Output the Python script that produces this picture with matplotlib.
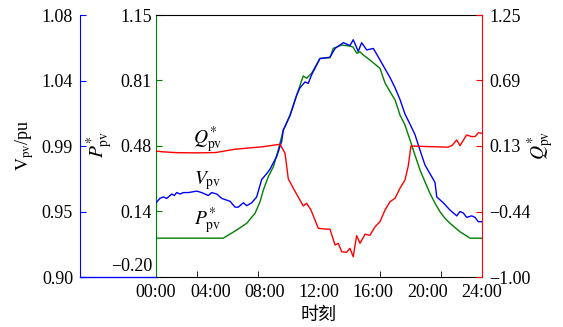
import matplotlib
matplotlib.use('Agg')
import matplotlib.pyplot as plt
from matplotlib.lines import Line2D

plt.rcParams['font.family'] = ['Liberation Serif', 'Noto Sans CJK SC']
plt.rcParams['mathtext.fontset'] = 'stix'
plt.rcParams['font.size'] = 13

# 有功出力 P*pv
p_hours = [0, 4.95, 5.94, 6.68, 7.29, 7.66, 7.9, 8.27, 8.64, 9.0, 9.25, 9.37, 9.5,
           9.87, 10.36, 10.84, 11.09, 11.46, 12.07, 12.81, 13.05, 13.67, 14.28,
           14.5, 14.78, 15.02, 15.26, 15.75, 16.49, 16.86, 17.23, 17.6, 17.96,
           18.33, 18.7, 19.06, 19.44, 19.8, 20.17, 20.54, 20.91, 21.28, 21.64,
           22.38, 23.12, 24]
p_pv = [0, 0, 0.042, 0.077, 0.128, 0.188, 0.248, 0.317, 0.368, 0.454, 0.523, 0.557, 0.574,
        0.635, 0.738, 0.836, 0.824, 0.850, 0.927, 0.930, 0.978, 0.995, 0.990,
        0.985, 0.953, 0.960, 0.944, 0.918, 0.875, 0.800, 0.755, 0.712, 0.635,
        0.583, 0.506, 0.429, 0.351, 0.291, 0.231, 0.180, 0.136, 0.102, 0.077,
        0.033, 0.0, 0.0]

# 无功 Q*pv
q_hours = [0, 0.5, 1.5, 3, 4.4, 5.8, 7.9, 9.13, 9.5, 9.74, 10.25, 10.84, 11.09, 11.41,
           11.7, 11.95, 12.43, 12.81, 13.18, 13.42, 13.67, 14.03, 14.28, 14.52,
           14.77, 15.02, 15.39, 15.75, 16.13, 16.49, 16.86, 17.23, 17.6, 17.96,
           18.33, 18.57, 18.77, 20.0, 21.5, 21.8, 22.14, 22.38, 22.87, 23.24,
           23.5, 23.73, 24]
q_pv = [0.082, 0.075, 0.068, 0.066, 0.069, 0.097, 0.119, 0.140, 0.062, -0.158, -0.267,
        -0.390, -0.367, -0.425, -0.510, -0.582, -0.588, -0.590, -0.725, -0.711,
        -0.783, -0.788, -0.754, -0.826, -0.645, -0.711, -0.633, -0.642, -0.568,
        -0.525, -0.425, -0.353, -0.324, -0.238, -0.167, -0.047, 0.125, 0.120,
        0.115, 0.130, 0.177, 0.128, 0.220, 0.205, 0.207, 0.239, 0.234]

# 并网点电压 Vpv
v_hours = [0, 0.29, 0.54, 0.79, 1.16, 1.35, 1.52, 1.77, 2.01, 2.38, 3.0, 3.36, 3.85,
           4.1, 4.47, 4.84, 5.45, 5.82, 6.06, 6.43, 6.68, 7.05, 7.41, 7.78, 8.15,
           8.39, 8.89, 9.25, 9.37, 9.87, 10.36, 10.6, 10.97, 11.21, 11.46, 12.07,
           12.81, 13.18, 13.79, 14.28, 14.52, 14.89, 15.14, 15.51, 16.0, 16.44,
           16.86, 17.23, 17.6, 17.96, 18.33, 18.7, 19.06, 19.44, 19.8, 20.17,
           20.54, 20.67, 21.15, 21.64, 22.14, 22.38, 22.62, 22.87, 23.24, 23.48,
           23.73, 24]
v_pv = [0.951, 0.954, 0.955, 0.954, 0.957, 0.956, 0.958, 0.957, 0.958, 0.958, 0.959,
        0.958, 0.956, 0.958, 0.957, 0.954, 0.952, 0.948, 0.948, 0.951, 0.949,
        0.951, 0.955, 0.967, 0.971, 0.974, 0.983, 0.993, 1.001, 1.011, 1.025,
        1.030, 1.034, 1.033, 1.039, 1.050, 1.051, 1.057, 1.061, 1.059, 1.063,
        1.055, 1.061, 1.056, 1.057, 1.050, 1.043, 1.037, 1.030, 1.022, 1.012,
        1.005, 0.998, 0.987, 0.977, 0.971, 0.965, 0.955, 0.951, 0.946, 0.942,
        0.945, 0.944, 0.941, 0.942, 0.941, 0.938, 0.938]

x_ticks = [0, 4, 8, 12, 16, 20, 24]
x_labels = ['00:00', '04:00', '08:00', '12:00', '16:00', '20:00', '24:00']
x_marks = [3, 7.5, 12, 16.5, 21]

v_ticks = [0.90, 0.945, 0.99, 1.035, 1.08]
v_labels = ['0.90', '0.95', '0.99', '1.04', '1.08']
p_ticks = [-0.20, 0.1375, 0.475, 0.8125, 1.15]
p_labels = ['', '0.14', '0.48', '0.81', '1.15']
q_ticks = [-1.00, -0.4375, 0.125, 0.6875, 1.25]
q_labels = ['\u22121.00', '\u22120.44', '0.13', '0.69', '1.25']

W, H = 563, 327
fig = plt.figure(figsize=(W / 100, H / 100), dpi=100)
ax = fig.add_axes([156 / W, 1 - 277 / H, 326 / W, 262 / H])
ax_v = ax.twinx()
ax_q = ax.twinx()

ax.plot(p_hours, p_pv, color='green', lw=1.0)
ax_v.plot(v_hours, v_pv, color='blue', lw=1.0)
ax_q.plot(q_hours, q_pv, color='red', lw=1.0)

# x 轴
ax.set_xlim(0, 24)
ax.set_xticks(x_ticks)
ax.set_xticklabels(x_labels)
ax.set_xticks(x_marks, minor=True)
ax.tick_params(axis='x', which='major', length=0, pad=5)
ax.tick_params(axis='x', which='minor', direction='in', length=4, color='k')
ax.set_xlabel('时刻', labelpad=4)

# P 轴（绿）
ax.set_ylim(-0.20, 1.15)
ax.set_yticks(p_ticks)
ax.set_yticklabels(p_labels)
ax.tick_params(axis='y', direction='in', length=4, color='green', pad=3)
ax.text(-0.012, -0.148, '\u22120.20', transform=ax.get_yaxis_transform(),
        ha='right', va='center')
ax.spines['left'].set_color('green')
ax.spines['right'].set_visible(False)

# V 轴（蓝）
ax_v.set_ylim(0.90, 1.08)
ax_v.set_yticks(v_ticks)
ax_v.set_yticklabels(v_labels)
ax_v.spines['left'].set_visible(True)
ax_v.spines['left'].set_position(('axes', -76 / 326))
ax_v.spines['left'].set_color('blue')
for s in ['right', 'top', 'bottom']:
    ax_v.spines[s].set_visible(False)
ax_v.yaxis.set_ticks_position('left')
ax_v.tick_params(axis='y', direction='in', length=4, color='blue', pad=5)
fig.add_artist(Line2D([80 / W, 156 / W], [1 - 277 / H] * 2, color='blue', lw=1.0))

# Q 轴（红）
ax_q.set_ylim(-1.00, 1.25)
ax_q.set_yticks(q_ticks)
ax_q.set_yticklabels(q_labels)
ax_q.spines['right'].set_color('red')
for s in ['left', 'top', 'bottom']:
    ax_q.spines[s].set_visible(False)
ax_q.tick_params(axis='y', direction='in', length=4, color='red', pad=5)

# 轴标题
fig.text(25 / W, 1 - 145 / H, r'$\mathrm{V}_{\mathrm{pv}}$/pu', rotation=90,
         ha='center', va='center')
fig.text(100 / W, 1 - 144 / H, r'$P^{*}_{\mathrm{pv}}$', rotation=90,
         ha='center', va='center', fontsize=14)
fig.text(541 / W, 1 - 145 / H, r'$Q^{*}_{\mathrm{pv}}$', rotation=90,
         ha='center', va='center', fontsize=14)

# 曲线标注
ax.text((208 - 156) / 326, (277 - 140) / 262, r'$Q^{*}_{\mathrm{pv}}$',
        transform=ax.transAxes, ha='center', va='center', fontsize=14)
ax.text((208 - 156) / 326, (277 - 181) / 262, r'$V_{\mathrm{pv}}$',
        transform=ax.transAxes, ha='center', va='center', fontsize=14)
ax.text((208 - 156) / 326, (277 - 221) / 262, r'$P^{*}_{\mathrm{pv}}$',
        transform=ax.transAxes, ha='center', va='center', fontsize=14)

fig.savefig('out.png', dpi=100)
